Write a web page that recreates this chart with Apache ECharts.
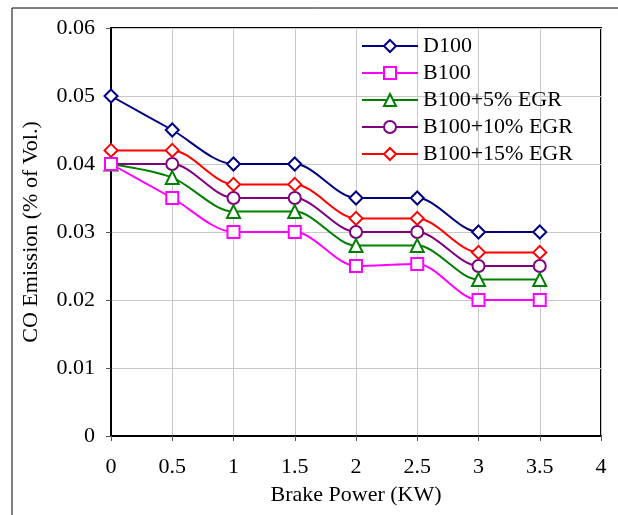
<!DOCTYPE html>
<html>
<head>
<meta charset="utf-8">
<script src="https://cdn.jsdelivr.net/npm/echarts@6/dist/echarts.min.js"></script>
<style>
  html, body { margin: 0; padding: 0; background: #fff; }
  #chart { width: 618px; height: 515px; }
</style>
</head>
<body>
<div id="chart"></div>
<script>
// Brake power (kW) on the x axis
const brakePower = [0, 0.5, 1, 1.5, 2, 2.5, 3, 3.5];

// CO emission (% of volume) for each fuel / EGR setting
const d100      = [0.050, 0.045, 0.040, 0.040, 0.035, 0.035, 0.030, 0.030];
const b100      = [0.040, 0.035, 0.030, 0.030, 0.025, 0.0253, 0.020, 0.020];
const b100egr5  = [0.040, 0.038, 0.033, 0.033, 0.028, 0.028, 0.023, 0.023];
const b100egr10 = [0.040, 0.040, 0.035, 0.035, 0.030, 0.030, 0.025, 0.025];
const b100egr15 = [0.042, 0.042, 0.037, 0.037, 0.032, 0.032, 0.027, 0.027];

const seriesNames = ['D100', 'B100', 'B100+5% EGR', 'B100+10% EGR', 'B100+15% EGR'];
const seriesValues = [d100, b100, b100egr5, b100egr10, b100egr15];
const seriesColors = ['#000080', '#FF00FF', '#008000', '#800080', '#FF0000'];
const seriesSymbols = ['diamond', 'rect', 'triangle', 'circle', 'diamond'];
const symbolSizes = [13, 12, 13, 12, 13];

const serif = 'Liberation Serif, Times New Roman, serif';

const chart = echarts.init(document.getElementById('chart'));

const series = seriesNames.map((name, i) => ({
  name: name,
  type: 'line',
  smooth: 0.3,
  data: brakePower.map((x, j) => [x, seriesValues[i][j]]),
  symbol: seriesSymbols[i],
  symbolSize: symbolSizes[i],
  showAllSymbol: true,
  lineStyle: { color: seriesColors[i], width: 2 },
  itemStyle: { color: '#fff', borderColor: seriesColors[i], borderWidth: 2 },
  z: 10 - i
}));

chart.setOption({
  animation: false,
  backgroundColor: '#fff',
  graphic: [{
    type: 'rect',
    shape: { x: 12, y: 8, width: 700, height: 600 },
    style: { fill: 'none', stroke: '#000', lineWidth: 1 },
    silent: true,
    z: 0
  }],
  grid: {
    left: 111, top: 28, right: 17, bottom: 79,
    show: true, borderColor: '#000', borderWidth: 2,
    containLabel: false
  },
  legend: {
    orient: 'vertical',
    left: 356, top: 30,
    itemWidth: 56, itemHeight: 15, itemGap: 5,
    data: seriesNames,
    textStyle: { fontFamily: serif, fontSize: 22, lineHeight: 22, color: '#000' }
  },
  xAxis: {
    type: 'value',
    min: 0, max: 4, interval: 0.5,
    name: 'Brake Power (KW)',
    nameLocation: 'middle',
    nameGap: 48,
    nameTextStyle: { fontFamily: serif, fontSize: 22, color: '#000' },
    axisLine: { show: true, lineStyle: { color: '#000', width: 2 } },
    axisTick: { show: true, length: 5, lineStyle: { color: '#555', width: 1 } },
    axisLabel: { fontFamily: serif, fontSize: 22, color: '#000', margin: 20 },
    splitLine: { show: true, lineStyle: { color: '#c8c8c8', width: 1 } }
  },
  yAxis: {
    type: 'value',
    min: 0, max: 0.06, interval: 0.01,
    name: 'CO Emission (% of Vol.)',
    nameLocation: 'middle',
    nameGap: 69,
    nameTextStyle: { fontFamily: serif, fontSize: 22, color: '#000' },
    axisLine: { show: true, lineStyle: { color: '#000', width: 2 } },
    axisTick: { show: true, length: 5, lineStyle: { color: '#555', width: 1 } },
    axisLabel: { fontFamily: serif, fontSize: 22, color: '#000', margin: 16 },
    splitLine: { show: true, lineStyle: { color: '#c8c8c8', width: 1 } }
  },
  series: series
});
</script>
</body>
</html>
